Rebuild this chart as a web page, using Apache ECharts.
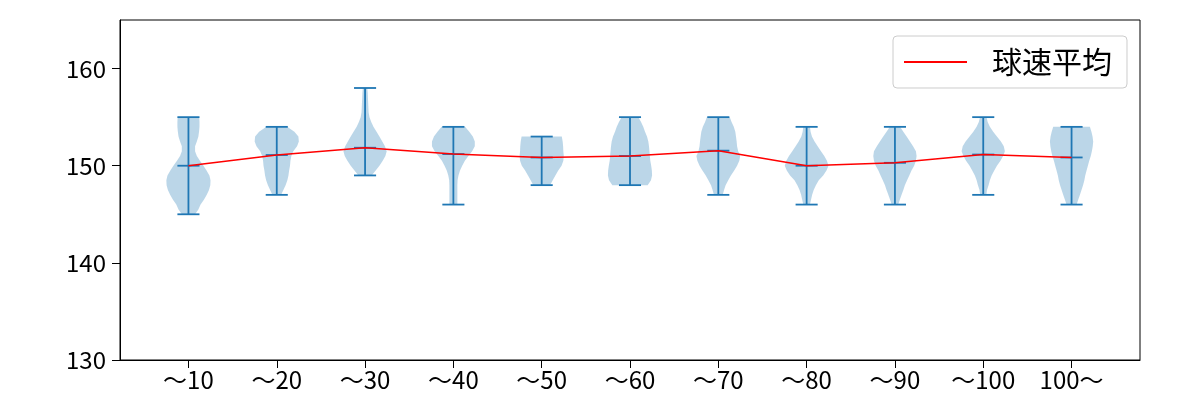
<!DOCTYPE html>
<html>
<head>
<meta charset="utf-8">
<script src="https://cdn.jsdelivr.net/npm/echarts@6/dist/echarts.min.js"></script>
<style>html,body{margin:0;padding:0;background:#fff}#c{width:1200px;height:400px}</style>
</head>
<body>
<div id="c"></div>
<script>
// ---- data ----
const categories = ['～10','～20','～30','～40','～50','～60','～70','～80','～90','～100','100～'];
const mins  = [145,147,149,146,148,148,147,146,146,147,146];
const maxs  = [155,154,158,154,153,155,155,154,154,155,154];
const means = [150.0,151.1,151.85,151.2,150.85,151.0,151.55,150.0,150.3,151.15,150.85];
// relative violin half-widths sampled every 0.5 km/h from min to max
const shapes = [
  [0.3,0.45,0.55,0.7,0.83,0.93,0.99,1.0,0.95,0.82,0.68,0.52,0.38,0.3,0.3,0.38,0.45,0.48,0.5,0.5,0.49],
  [0.2,0.3,0.4,0.48,0.53,0.56,0.6,0.62,0.66,0.75,0.92,1.0,0.98,0.8,0.47],
  [0.3,0.48,0.65,0.8,0.92,0.98,0.9,0.78,0.65,0.52,0.38,0.28,0.2,0.16,0.15,0.14,0.13,0.12,0.1],
  [0.18,0.18,0.18,0.18,0.18,0.19,0.23,0.3,0.4,0.52,0.68,0.85,0.97,0.97,0.88,0.72,0.53],
  [0.38,0.5,0.62,0.75,0.9,0.98,1.0,0.98,0.97,0.95,0.91],
  [0.8,0.95,1.0,0.99,0.96,0.92,0.9,0.88,0.86,0.83,0.77,0.68,0.6,0.5,0.38],
  [0.2,0.26,0.33,0.45,0.57,0.72,0.85,0.95,0.99,0.9,0.85,0.83,0.8,0.77,0.7,0.6,0.52],
  [0.15,0.2,0.25,0.32,0.42,0.55,0.75,0.9,0.99,0.92,0.8,0.65,0.5,0.36,0.24,0.18,0.15],
  [0.15,0.22,0.3,0.38,0.45,0.55,0.65,0.75,0.87,0.95,0.98,0.95,0.82,0.68,0.53,0.38,0.23],
  [0.14,0.17,0.24,0.3,0.38,0.5,0.62,0.78,0.9,0.98,0.93,0.8,0.62,0.45,0.3,0.2,0.15],
  [0.23,0.3,0.38,0.45,0.52,0.58,0.62,0.68,0.74,0.8,0.87,0.92,0.96,0.98,0.95,0.9,0.83]
];
const yTicks = [130,140,150,160];
const seriesName = '球速平均';
// ----------------------------------------

const positions = categories.map((c, i) => i + 1);
const FONT = '"Noto Sans CJK JP", "Noto Sans", sans-serif';
const C0 = '#1f77b4';
const HALF = 0.25, CAP = 0.125, STEP = 0.5;

const chart = echarts.init(document.getElementById('c'), null, {renderer: 'canvas'});

function renderViolin(params, api) {
  const i = params.dataIndex;
  const x = api.value(0);
  const lo = mins[i], hi = maxs[i], m = api.value(1);
  const w = shapes[i];
  const right = [], left = [];
  for (let k = 0; k < w.length; k++) {
    const v = lo + k * STEP;
    right.push(api.coord([x + w[k] * HALF, v]));
    left.push(api.coord([x - w[k] * HALF, v]));
  }
  const pts = right.concat(left.reverse());
  const ls = {stroke: C0, lineWidth: 1.8};
  const seg = (x1, y1, x2, y2) => {
    const a = api.coord([x1, y1]), b = api.coord([x2, y2]);
    return {type: 'line', shape: {x1: a[0], y1: a[1], x2: b[0], y2: b[1]}, style: ls};
  };
  return {
    type: 'group',
    children: [
      {type: 'polygon', shape: {points: pts}, style: {fill: 'rgba(31,119,180,0.3)', stroke: null}},
      seg(x, lo, x, hi),
      seg(x - CAP, lo, x + CAP, lo),
      seg(x - CAP, hi, x + CAP, hi),
      seg(x - CAP, m, x + CAP, m)
    ]
  };
}

const option = {
  animation: false,
  grid: {left: 120, right: 60, top: 20, bottom: 40, show: true, borderColor: '#000', borderWidth: 1},
  legend: {
    data: [{name: seriesName, icon: 'rect'}],
    left: 893, top: 36,
    padding: [11, 15, 11, 11],
    itemWidth: 63, itemHeight: 2,
    borderColor: '#cccccc', borderWidth: 1, borderRadius: 4,
    backgroundColor: '#fff',
    textStyle: {fontSize: 30, fontFamily: FONT, color: '#000', padding: [0, 0, 0, 20]}
  },
  xAxis: {
    type: 'value', min: 0.225, max: 11.775,
    splitLine: {show: false},
    axisLine: {show: true, lineStyle: {color: '#000', width: 1}},
    axisTick: {show: true, customValues: positions, length: 8, lineStyle: {color: '#000'}},
    axisLabel: {customValues: positions, formatter: v => categories[Math.round(v) - 1],
      color: '#000', fontSize: 24, fontFamily: FONT, margin: 8}
  },
  yAxis: {
    type: 'value', min: 130, max: 165, interval: 10,
    splitLine: {show: false},
    axisLine: {show: true, lineStyle: {color: '#000', width: 1}},
    axisTick: {show: true, customValues: yTicks, length: 8, lineStyle: {color: '#000'}},
    axisLabel: {customValues: yTicks, color: '#000', fontSize: 24, fontFamily: FONT, margin: 14}
  },
  series: [
    {
      type: 'custom', name: 'violin',
      renderItem: renderViolin,
      data: positions.map((p, i) => [p, means[i]]),
      encode: {x: 0, y: 1},
      z: 2
    },
    {
      type: 'line', name: seriesName,
      data: positions.map((p, i) => [p, means[i]]),
      symbol: 'none',
      lineStyle: {color: 'red', width: 1.5},
      itemStyle: {color: 'red'},
      z: 3
    }
  ]
};
chart.setOption(option);
</script>
</body>
</html>
